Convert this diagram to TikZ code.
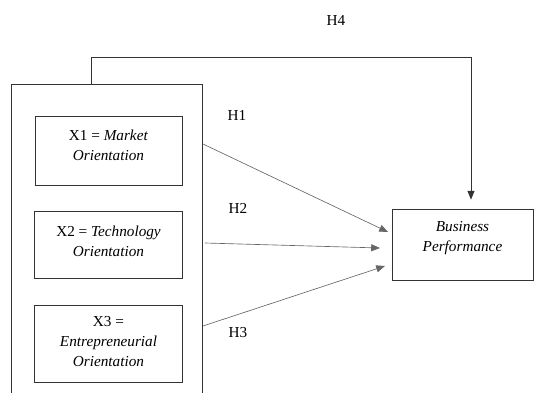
\documentclass[tikz,border=0pt]{standalone}
\usepackage{fontspec}
\setmainfont{Liberation Serif}
\usetikzlibrary{positioning, arrows.meta}

\begin{document}
\begin{tikzpicture}[x=0.03cm, y=-0.03cm,
        varbox/.style={draw=black!80, line width=0.7pt, align=center, font=\fontsize{13}{17}\selectfont},
        link/.style={draw=black!60, line width=0.55pt, -{Triangle[length=7.5pt, width=6pt]}},
        hyp/.style={font=\fontsize{13}{15}\selectfont}]
        \useasboundingbox (0,0) rectangle (534,392);

        % independent variables
        \node[draw=black!80, line width=0.7pt, minimum width=5.73cm, minimum height=9.6cm, anchor=north west] (frame) at (11,84) {};
        \node[varbox, minimum width=4.41cm, minimum height=2.07cm, text depth=9pt] (x1) at (108.5,150.5) {X1 = \textit{Market}\\ \textit{Orientation}};
        \node[varbox, minimum width=4.44cm, minimum height=2.01cm, text depth=7pt, below=0.78cm of x1] (x2) {X2 = \textit{Technology}\\ \textit{Orientation}};
        \node[varbox, minimum width=4.44cm, minimum height=2.31cm, text depth=4pt, below=0.78cm of x2] (x3) {X3 =\\ \textit{Entrepreneurial}\\ \textit{Orientation}};

        % dependent variable
        \node[varbox, minimum width=4.23cm, minimum height=2.13cm, text depth=14pt] (perf) at (462.5,244.5) {\textit{Business}\\ \textit{Performance}};

        \coordinate (s1) at (203,144);
        \coordinate (s2) at (205,243);
        \coordinate (s3) at (203,326);
        \coordinate (t1) at (388,232);
        \coordinate (t2) at (380,248);
        \coordinate (t3) at (385,266);
        \coordinate (h4a) at (91,84);
        \coordinate (h4b) at (471,57);

        \draw[link] (s1) -- (t1);
        \draw[link] (s2) -- (t2);
        \draw[link] (s3) -- (t3);
        \draw[link, draw=black!80, shorten >=0.27cm] (h4a) |- (h4b) -- (h4b |- perf.north);

        \node[hyp] (h1) at (237,115) {H1};
        \node[hyp] (h2) at (238,208) {H2};
        \node[hyp] (h3) at (238,333) {H3};
        \node[hyp] (h4) at (336,20) {H4};
    \end{tikzpicture}
\end{document}
